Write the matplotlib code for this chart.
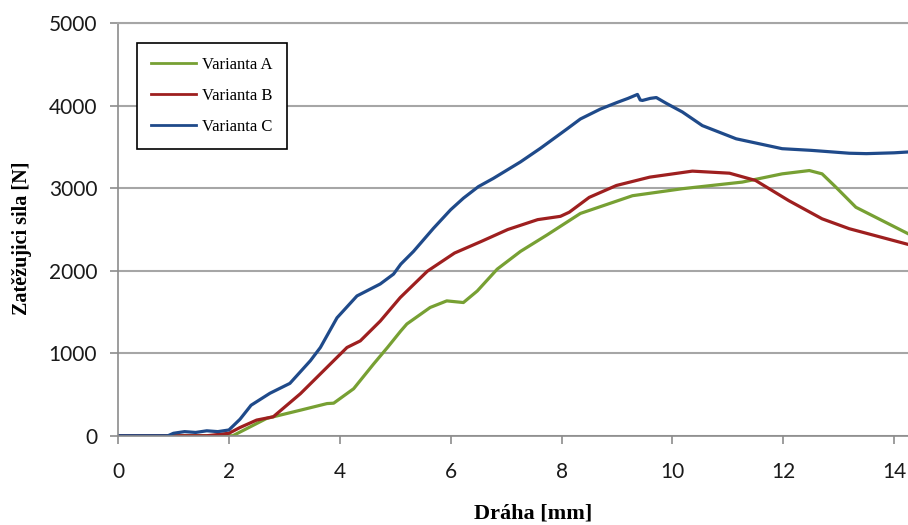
import matplotlib.pyplot as plt

# data
x_a = [0, 2.07, 2.68, 3.29, 3.77, 3.89, 4.25, 4.61, 4.86, 5.1, 5.21, 5.63, 5.93, 6.23, 6.48,
       6.84, 7.26, 7.74, 8.34, 9.28, 10.18, 11.26, 11.98, 12.47, 12.7, 12.95, 13.31, 13.78, 14.25]
y_a = [0, 0, 210, 310, 390, 395, 570, 870, 1070, 1270, 1355, 1555, 1635, 1615, 1755,
       2020, 2235, 2435, 2695, 2910, 2995, 3075, 3175, 3215, 3175, 3013, 2770, 2610, 2450]

x_b = [0, 1.6, 2.0, 2.2, 2.5, 2.8, 3.29, 3.77, 4.13, 4.37, 4.73, 5.09, 5.58, 6.07, 6.55,
       7.03, 7.57, 7.98, 8.14, 8.5, 8.99, 9.59, 10.36, 11.03, 11.5, 12.1, 12.7, 13.19, 14.25]
y_b = [0, 0, 30, 100, 190, 230, 510, 830, 1070, 1150, 1390, 1675, 1995, 2215, 2355,
       2500, 2620, 2660, 2710, 2890, 3034, 3135, 3208, 3183, 3095, 2850, 2630, 2510, 2320]

x_c = [0, 0.9, 1.0, 1.2, 1.4, 1.6, 1.8, 2.0, 2.2, 2.4, 2.74, 3.1, 3.47, 3.65, 3.95, 4.31,
       4.73, 4.97, 5.1, 5.33, 5.69, 6.0, 6.23, 6.5, 6.77, 7.26, 7.62, 8.1, 8.34, 8.7, 9.0,
       9.2, 9.37, 9.42, 9.46, 9.6, 9.71, 9.89, 10.18, 10.54, 11.15, 11.98, 12.5, 13.19,
       13.5, 14.0, 14.25]
y_c = [0, 0, 30, 50, 40, 60, 50, 70, 200, 370, 515, 635, 910, 1070, 1430, 1695,
       1840, 1960, 2080, 2235, 2515, 2740, 2880, 3020, 3120, 3320, 3485, 3720, 3840, 3960, 4040,
       4090, 4138, 4070, 4065, 4090, 4100, 4030, 3925, 3760, 3600, 3480, 3460, 3425,
       3420, 3430, 3440]

labels = ['Varianta A', 'Varianta B', 'Varianta C']
colors = ['#77a033', '#9e1f1f', '#1f4a8a']

fig = plt.figure(figsize=(9.08, 5.25), dpi=100)
ax = fig.add_axes([0.13, 0.17, 0.87, 0.7856])

ax.plot(x_a, y_a, color=colors[0], lw=2.3, label=labels[0])
ax.plot(x_b, y_b, color=colors[1], lw=2.3, label=labels[1])
ax.plot(x_c, y_c, color=colors[2], lw=2.3, label=labels[2])

ax.set_xlim(0, 14.25)
ax.set_ylim(0, 5000)
ax.set_xticks(range(0, 15, 2))
ax.set_yticks(range(0, 5001, 1000))

ax.grid(axis='y', color='#a6a6a6', lw=1.5)
ax.set_axisbelow(True)
ax.spines['right'].set_visible(False)
ax.spines['top'].set_color('#a6a6a6')
ax.spines['top'].set_linewidth(1.5)
ax.spines['left'].set_color('#8c8c8c')
ax.spines['bottom'].set_color('#8c8c8c')
ax.spines['left'].set_linewidth(1.2)
ax.spines['bottom'].set_linewidth(1.2)

ax.tick_params(axis='both', direction='out', length=6, width=1.2, color='#8c8c8c',
               labelsize=15, labelcolor='#1a1a1a')
ax.tick_params(axis='x', pad=13)
ax.tick_params(axis='y', pad=9)
for t in ax.get_xticklabels() + ax.get_yticklabels():
    t.set_family('Lato')

ax.set_xlabel('Dráha [mm]', family='Liberation Serif', fontweight='bold', fontsize=16)
ax.set_ylabel('Zatěžujici sila [N]', family='Liberation Serif', fontweight='bold', fontsize=14.5)
ax.xaxis.set_label_coords(0.525, -0.165)
ax.yaxis.set_label_coords(-0.109, 0.479)

leg = ax.legend(loc='upper left', bbox_to_anchor=(0.024, 0.952), borderaxespad=0,
                fancybox=False, edgecolor='black', framealpha=1,
                prop={'family': 'Liberation Serif', 'size': 12},
                handlelength=2.7, handletextpad=0.35, labelspacing=0.9,
                borderpad=0.85)
leg.get_frame().set_linewidth(1.2)
for line in leg.get_lines():
    line.set_linewidth(2)

plt.savefig('out.png', dpi=100)
